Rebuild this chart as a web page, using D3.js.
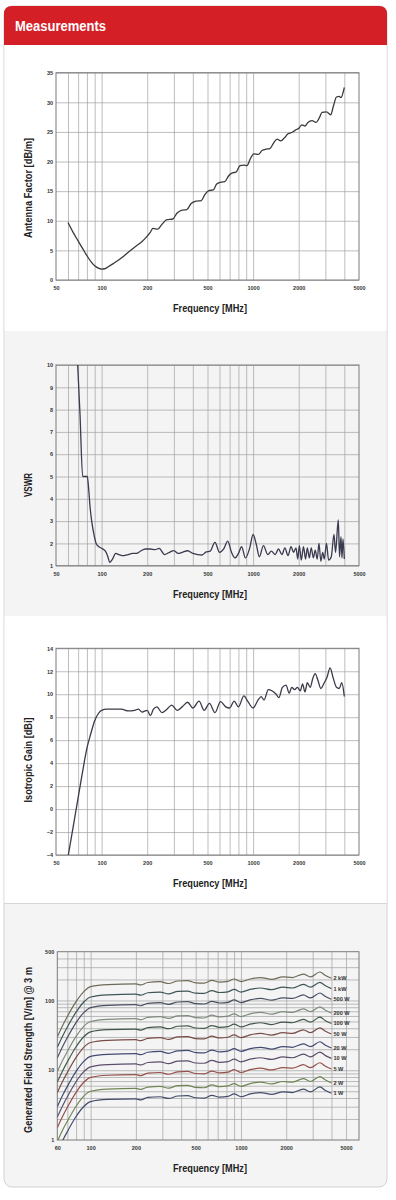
<!DOCTYPE html>
<html>
<head>
<meta charset="utf-8">
<script src="https://cdn.jsdelivr.net/npm/d3@7"></script>
<style>
  body { margin: 0; background: #fff; }
  svg text { font-family: "Liberation Sans", "DejaVu Sans", Roboto, sans-serif; font-weight: bold; fill: #222; }
  .tick text { font-size: 5.5px; fill: #333; }
  .grid line { stroke: #a0a0a0; stroke-width: 0.7; }
  .grid .domain { display: none; }
  .labels .domain { display: none; }
  .axis_title { font-size: 11px; }
  .series_label { font-size: 5.6px; fill: #333; }
</style>
</head>
<body>
<div id="page"></div>
<script>

// ---------- data ----------
// Antenna factor [dB/m]
const antFreq = [60, 65, 70, 75, 80, 85, 90, 95, 100, 105, 110, 120, 135, 150, 170, 185, 200, 210, 218, 235, 250, 270, 295, 315, 340, 365, 390, 420, 455, 480, 510, 545, 575, 610, 650, 690, 730, 770, 820, 870, 910, 960, 1010, 1080, 1150, 1220, 1290, 1370, 1440, 1520, 1610, 1700, 1800, 1900, 2000, 2100, 2200, 2300, 2450, 2600, 2750, 2850, 3050, 3250, 3400, 3550, 3700, 3800, 4000];
const antFactor = [9.7, 8.0, 6.6, 5.3, 4.1, 3.1, 2.4, 2.0, 1.85, 1.9, 2.2, 2.8, 3.7, 4.7, 5.8, 6.5, 7.4, 8.1, 8.7, 8.6, 9.4, 10.2, 10.3, 11.3, 11.8, 11.9, 12.9, 13.3, 13.4, 14.4, 15.1, 15.2, 16.2, 16.5, 16.6, 17.6, 18.1, 18.2, 19.3, 19.4, 19.3, 20.5, 21.3, 21.2, 21.9, 22.1, 22.2, 23.2, 23.8, 23.5, 24.0, 24.7, 24.9, 25.3, 25.6, 26.2, 26.0, 26.6, 26.9, 26.6, 27.5, 28.3, 28.4, 27.9, 29.5, 30.9, 31.0, 30.8, 32.5];

// VSWR
const vswrFreq = [69.5, 72, 75, 80.5, 82, 84, 86, 89, 92, 96, 100, 106, 110, 113, 118, 124, 130, 140, 150, 160, 170, 180, 195, 210, 225, 240, 260, 280, 300, 320, 340, 370, 400, 430, 460, 490, 520, 560, 600, 640, 680, 720, 760, 800, 840, 890, 950, 1000, 1050, 1100, 1170, 1250, 1320, 1400, 1470, 1550, 1620, 1700, 1780, 1850, 1920, 1970, 2020, 2080, 2150, 2220, 2280, 2350, 2420, 2500, 2570, 2650, 2720, 2800, 2880, 2950, 3050, 3150, 3280, 3420, 3500, 3650, 3720, 3800, 3860, 3920, 4000];
const vswrValue = [10, 7.8, 5.0, 5.0, 4.5, 3.6, 3.0, 2.4, 2.0, 1.85, 1.78, 1.65, 1.4, 1.15, 1.3, 1.55, 1.5, 1.45, 1.5, 1.55, 1.55, 1.65, 1.75, 1.75, 1.72, 1.78, 1.5, 1.6, 1.68, 1.55, 1.6, 1.67, 1.55, 1.5, 1.48, 1.62, 1.65, 2.05, 1.6, 1.75, 2.1, 1.6, 1.35, 1.55, 1.85, 1.35, 1.8, 2.4, 1.95, 1.4, 1.9, 1.5, 1.65, 1.5, 1.75, 1.5, 1.8, 1.45, 1.85, 1.6, 1.8, 1.3, 1.9, 1.25, 1.85, 1.3, 1.8, 1.35, 1.8, 1.35, 1.7, 1.3, 2.0, 1.2, 1.6, 1.3, 2.0, 1.25, 1.4, 2.4, 1.6, 3.05, 1.4, 2.3, 1.35, 2.2, 1.3];

// Isotropic gain [dBi]
const gainFreq = [60.3, 65, 70, 75, 80, 85, 90, 95, 100, 108, 120, 135, 150, 165, 175, 185, 200, 210, 220, 232, 250, 270, 290, 315, 340, 370, 400, 440, 475, 515, 560, 610, 660, 700, 750, 800, 870, 920, 1000, 1080, 1130, 1180, 1260, 1330, 1420, 1480, 1560, 1650, 1730, 1800, 1880, 1960, 2050, 2120, 2200, 2280, 2380, 2480, 2570, 2680, 2800, 2950, 3080, 3220, 3380, 3550, 3700, 3850, 4000];
const gainValue = [-4, -1.5, 1.0, 3.3, 5.3, 6.6, 7.7, 8.3, 8.6, 8.7, 8.7, 8.7, 8.55, 8.6, 8.7, 8.45, 8.6, 8.15, 8.7, 8.9, 8.4, 8.7, 9.05, 8.6, 8.9, 9.3, 8.8, 9.4, 8.6, 9.2, 8.4, 9.35, 8.9, 8.8, 9.4, 8.9, 9.85, 9.4, 8.8, 9.5, 9.8, 9.5, 10.4, 10.3, 10.0, 9.7, 10.6, 10.8, 10.1, 10.6, 10.4, 10.6, 10.3, 10.9, 10.2, 11.0, 10.6, 11.4, 11.8, 11.2, 10.5, 11.0, 11.5, 12.3, 11.4, 10.6, 10.5, 11.0, 9.8];

// Generated field strength [V/m] @ 3 m
const fieldFreq = [60, 65, 70, 80, 90, 100, 130, 200, 215, 240, 290, 330, 380, 440, 500, 570, 640, 720, 820, 900, 1000, 1150, 1350, 1600, 1900, 2200, 2600, 2900, 3350, 3650, 4000];
const field2kW = [30, 43.5, 59, 96, 134, 158, 169, 173, 167, 181, 186, 175, 190, 192, 179, 177, 194, 183, 188, 203, 186, 203, 213, 201, 218, 213, 239, 218, 256, 228, 208];
const field1kW = [21.3, 30.8, 41.7, 68, 95, 112, 120, 123, 119, 129, 132, 124, 135, 136, 127, 126, 138, 130, 133, 144, 132, 144, 151, 143, 155, 151, 170, 155, 182, 162, 148];
const field500W = [15.0, 21.7, 29.4, 48.2, 67, 79, 85, 87, 84, 91, 93, 88, 95, 96, 90, 89, 97, 92, 94, 102, 93, 102, 107, 101, 109, 107, 120, 109, 128, 114, 104];
const field200W = [9.5, 13.75, 18.6, 30.5, 42.6, 50, 53.6, 54.9, 53.0, 57.4, 58.8, 55.5, 60.1, 60.8, 56.8, 56.1, 61.5, 58.1, 59.5, 64.4, 58.8, 64.4, 67.5, 63.7, 69.0, 67.5, 75.7, 69.0, 81.1, 72.3, 65.9];
const field100W = [6.75, 9.76, 13.2, 21.7, 30.2, 35.5, 38.1, 38.9, 37.6, 40.8, 41.7, 39.4, 42.7, 43.2, 40.3, 39.8, 43.7, 41.2, 42.2, 45.7, 41.7, 45.7, 47.9, 45.2, 49.0, 47.9, 53.7, 49.0, 57.6, 51.3, 46.8];
const field50W = [4.75, 6.88, 9.3, 15.25, 21.3, 25, 26.8, 27.4, 26.5, 28.7, 29.4, 27.7, 30.1, 30.4, 28.4, 28.1, 30.8, 29.0, 29.7, 32.2, 29.4, 32.2, 33.7, 31.9, 34.5, 33.7, 37.9, 34.5, 40.6, 36.1, 33.0];
const field20W = [3.0, 4.35, 5.88, 9.64, 13.4, 15.8, 16.9, 17.3, 16.7, 18.1, 18.6, 17.5, 19.0, 19.2, 17.9, 17.7, 19.4, 18.3, 18.8, 20.4, 18.6, 20.4, 21.3, 20.1, 21.8, 21.3, 23.9, 21.8, 25.6, 22.8, 20.8];
const field10W = [2.13, 3.08, 4.17, 6.83, 9.53, 11.2, 12.0, 12.3, 11.9, 12.9, 13.2, 12.4, 13.5, 13.6, 12.7, 12.6, 13.8, 13.0, 13.3, 14.4, 13.2, 14.4, 15.1, 14.3, 15.5, 15.1, 17.0, 15.5, 18.2, 16.2, 14.8];
const field5W = [1.50, 2.17, 2.94, 4.82, 6.72, 7.9, 8.47, 8.67, 8.37, 9.07, 9.28, 8.76, 9.50, 9.61, 8.97, 8.86, 9.72, 9.17, 9.39, 10.2, 9.28, 10.2, 10.7, 10.1, 10.9, 10.7, 12.0, 10.9, 12.8, 11.4, 10.4];
const field2W = [0.95, 1.38, 1.86, 3.05, 4.26, 5.0, 5.36, 5.49, 5.30, 5.74, 5.88, 5.55, 6.01, 6.08, 5.68, 5.61, 6.15, 5.81, 5.95, 6.44, 5.88, 6.44, 6.75, 6.37, 6.90, 6.75, 7.57, 6.90, 8.11, 7.23, 6.59];
const field1W = [0.675, 0.976, 1.32, 2.17, 3.02, 3.55, 3.81, 3.89, 3.76, 4.08, 4.17, 3.94, 4.27, 4.32, 4.03, 3.98, 4.37, 4.12, 4.22, 4.57, 4.17, 4.57, 4.79, 4.52, 4.90, 4.79, 5.37, 4.90, 5.76, 5.13, 4.68];
const fieldLabels = ["2 kW", "1 kW", "500 W", "200 W", "100 W", "50 W", "20 W", "10 W", "5 W", "2 W", "1 W"];

// ticks
const freqTicks = [50, 100, 200, 500, 1000, 2000, 5000];
const freqTicksField = [60, 100, 200, 500, 1000, 2000, 5000];
const freqGrid = [60, 70, 80, 90, 100, 200, 300, 400, 500, 600, 700, 800, 900, 1000, 2000, 3000, 4000];
const freqGridField = [70, 80, 90, 100, 200, 300, 400, 500, 600, 700, 800, 900, 1000, 2000, 3000, 4000, 5000];
const antTicks = [0, 5, 10, 15, 20, 25, 30, 35];
const vswrTicks = [1, 2, 3, 4, 5, 6, 7, 8, 9, 10];
const gainTicks = [-4, -2, 0, 2, 4, 6, 8, 10, 12, 14];
const fieldTicks = [1, 10, 100, 500];
const fieldGrid = [2, 3, 4, 5, 6, 7, 8, 9, 10, 20, 30, 40, 50, 60, 70, 80, 90, 100, 200, 300, 400];

const fieldColors = ["#6e6a58", "#3f5656", "#4a4f60", "#7f8a7c", "#43584a", "#7a4d48", "#424a72", "#5b4d6c", "#94504a", "#6f8654", "#424c6a"];

// ---------- page frame ----------
const W = 396, H = 1200;
const svg = d3.select("#page").append("svg")
    .attr("width", W)
    .attr("height", H);

const panelX = 4, panelW = 383;
const panels = [
    {y0: 45, y1: 331, fill: "#ffffff"},
    {y0: 331, y1: 616, fill: "#f4f4f4"},
    {y0: 616, y1: 903, fill: "#ffffff"},
    {y0: 903, y1: 1187, fill: "#f4f4f4"}
];

// outer box with rounded corners
svg.append("rect")
    .attr("x", panelX).attr("y", 6)
    .attr("width", panelW).attr("height", 1187 - 6)
    .attr("rx", 8)
    .attr("fill", "#f4f4f4")
    .attr("stroke", "#d2d2d2");

panels.forEach((p, i) => {
    if (i < 3) {
        svg.append("rect")
            .attr("x", panelX + 0.5).attr("y", p.y0)
            .attr("width", panelW - 1).attr("height", p.y1 - p.y0)
            .attr("fill", p.fill);
    }
    svg.append("line")
        .attr("x1", panelX).attr("x2", panelX + panelW)
        .attr("y1", p.y1 + 0.5).attr("y2", p.y1 + 0.5)
        .attr("stroke", i < 3 ? "#d6d6d6" : "none");
});

// red header, rounded on top only
svg.append("path")
    .attr("d", `M${panelX},45 L${panelX},14 Q${panelX},6 ${panelX + 8},6 L${panelX + panelW - 8},6 Q${panelX + panelW},6 ${panelX + panelW},14 L${panelX + panelW},45 Z`)
    .attr("fill", "#d41f27");

svg.append("text")
    .attr("x", 15).attr("y", 30.5)
    .style("font-size", "14px")
    .style("fill", "#fff")
    .attr("textLength", 91)
    .attr("lengthAdjust", "spacingAndGlyphs")
    .text("Measurements");


// ---------- chart class ----------
class FreqChart {

    constructor(parent, config) {
        this.parent = parent;
        this.config = config;
        this.initVis();
    }

    initVis() {
        let vis = this;
        let c = vis.config;

        vis.g = vis.parent.append("g");
        vis.width = c.right - c.left;
        vis.height = c.bottom - c.top;

        vis.x = d3.scaleLog().domain(c.xDomain).range([c.left, c.right]);
        vis.y = (c.yLog ? d3.scaleLog() : d3.scaleLinear())
            .domain(c.yDomain)
            .range([c.bottom, c.top]);

        // grid
        vis.g.append("g")
            .attr("class", "grid")
            .attr("transform", "translate(0," + c.bottom + ")")
            .call(d3.axisBottom(vis.x).tickValues(c.xGrid).tickSize(-vis.height).tickFormat(""));

        vis.g.append("g")
            .attr("class", "grid")
            .attr("transform", "translate(" + c.left + ",0)")
            .call(d3.axisLeft(vis.y).tickValues(c.yGrid).tickSize(-vis.width).tickFormat(""));

        // tick labels
        vis.g.append("g")
            .attr("class", "labels")
            .attr("transform", "translate(0," + c.bottom + ")")
            .call(d3.axisBottom(vis.x).tickValues(c.xTicks).tickSize(0).tickPadding(6).tickFormat(d3.format("d")));

        vis.g.append("g")
            .attr("class", "labels")
            .attr("transform", "translate(" + c.left + ",0)")
            .call(d3.axisLeft(vis.y).tickValues(c.yTicks).tickSize(0).tickPadding(3).tickFormat(d3.format("d")));

        // frame
        vis.g.append("rect")
            .attr("x", c.left).attr("y", c.top)
            .attr("width", vis.width).attr("height", vis.height)
            .attr("fill", "none")
            .attr("stroke", "#7a7a7a")
            .attr("stroke-width", 1);

        vis.clipId = "clip" + c.id;
        vis.g.append("clipPath").attr("id", vis.clipId)
            .append("rect")
            .attr("x", c.left).attr("y", c.top)
            .attr("width", vis.width).attr("height", vis.height);

        // titles (condensed look via textLength)
        vis.g.append("text")
            .attr("class", "axis_title")
            .attr("x", 210).attr("y", c.bottom + 32)
            .attr("text-anchor", "middle")
            .attr("textLength", 74)
            .attr("lengthAdjust", "spacingAndGlyphs")
            .text("Frequency [MHz]");

        vis.g.append("text")
            .attr("class", "axis_title")
            .attr("transform", "translate(" + 32 + "," + c.yTitleY + ")rotate(-90)")
            .attr("text-anchor", "middle")
            .attr("textLength", c.yTitleLen)
            .attr("lengthAdjust", "spacingAndGlyphs")
            .text(c.yTitle);

        vis.updateVis();
    }

    updateVis() {
        let vis = this;
        let c = vis.config;

        let line = d3.line()
            .x(d => vis.x(d.f))
            .y(d => vis.y(d.v))
            .curve(d3.curveMonotoneX);

        vis.g.append("g")
            .attr("clip-path", "url(#" + vis.clipId + ")")
            .selectAll(".curve")
            .data(c.series)
            .enter()
            .append("path")
            .attr("class", "curve")
            .attr("d", s => line(s.values))
            .attr("fill", "none")
            .attr("stroke", s => s.color)
            .attr("stroke-width", c.lineWidth || 1.3)
            .attr("stroke-linejoin", "round");

        // labels at curve ends (field chart)
        vis.g.selectAll(".series_label")
            .data(c.series.filter(s => s.label))
            .enter()
            .append("text")
            .attr("class", "series_label")
            .attr("x", s => vis.x(s.values[s.values.length - 1].f) + 2)
            .attr("y", s => vis.y(s.values[s.values.length - 1].v) + 2)
            .text(s => s.label);
    }
}

function zipSeries(freq, vals) {
    return freq.map((f, i) => ({f: f, v: vals[i]}));
}

new FreqChart(svg, {
    id: 1, left: 56, right: 359, top: 72.7, bottom: 280,
    xDomain: [50, 5000], yDomain: [0, 35],
    xTicks: freqTicks, xGrid: freqGrid, yTicks: antTicks, yGrid: antTicks,
    yTitle: "Antenna Factor [dB/m]", yTitleY: 188, yTitleLen: 100,
    series: [{values: zipSeries(antFreq, antFactor), color: "#3a3a3a"}]
});

new FreqChart(svg, {
    id: 2, left: 56, right: 359, top: 365, bottom: 565.7,
    xDomain: [50, 5000], yDomain: [1, 10],
    xTicks: freqTicks, xGrid: freqGrid, yTicks: vswrTicks, yGrid: vswrTicks,
    yTitle: "VSWR", yTitleY: 485, yTitleLen: 24,
    series: [{values: zipSeries(vswrFreq, vswrValue), color: "#3a3a50"}]
});

new FreqChart(svg, {
    id: 3, left: 56, right: 359, top: 648.3, bottom: 855,
    xDomain: [50, 5000], yDomain: [-4, 14],
    xTicks: freqTicks, xGrid: freqGrid, yTicks: gainTicks, yGrid: gainTicks,
    yTitle: "Isotropic Gain [dBi]", yTitleY: 760, yTitleLen: 85,
    series: [{values: zipSeries(gainFreq, gainValue), color: "#3a3a48"}]
});

const fieldSeries = [field2kW, field1kW, field500W, field200W, field100W, field50W, field20W, field10W, field5W, field2W, field1W];

new FreqChart(svg, {
    id: 4, left: 57.3, right: 359, top: 951.7, bottom: 1140,
    xDomain: [60, 6100], yDomain: [1, 500], yLog: true,
    xTicks: freqTicksField, xGrid: freqGridField, yTicks: fieldTicks, yGrid: fieldGrid,
    yTitle: "Generated Field Strength [V/m] @ 3 m", yTitleY: 1050, yTitleLen: 166,
    lineWidth: 1.2,
    series: fieldSeries.map((vals, i) => ({values: zipSeries(fieldFreq, vals), color: fieldColors[i], label: fieldLabels[i]}))
});

</script>
</body>
</html>
